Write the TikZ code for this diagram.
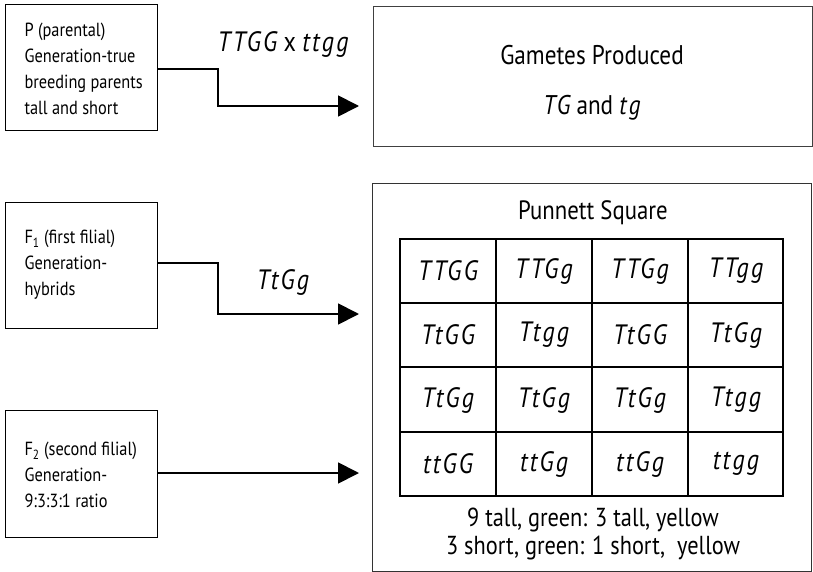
\documentclass[tikz,border=0pt]{standalone}
\usepackage{fontspec}
\setmainfont{PT Sans}[FakeStretch=0.86]
\newfontfamily\genofam{PT Sans}[LetterSpace=8,FakeStretch=0.86]
\usetikzlibrary{arrows.meta}
\newcommand{\gt}[1]{{\genofam\itshape #1}}
\begin{document}
\begin{tikzpicture}[x=1pt,y=-1pt,
  genbox/.style={draw,line width=1.3pt,inner sep=0pt},
  boxtext/.style={font=\fontsize{19}{26}\selectfont,align=left,anchor=west},
  conn/.style={line width=1.8pt,-{Triangle[length=21pt,width=21pt]}},
  cell/.style={font=\fontsize{28}{30}\selectfont},
  celllines/.style={line width=1.3pt}]
\useasboundingbox (0,0) rectangle (813,572);
% left boxes
\node[genbox,minimum width=152pt,minimum height=126pt,anchor=north west] (P) at (5,4) {};
\node[boxtext] (Ptext) at (21,69) {P (parental)\\Generation-true\\breeding parents\\tall and short};
\node[genbox,minimum width=152pt,minimum height=126pt,anchor=north west] (F1) at (5,202) {};
\node[boxtext] (F1text) at (21,265) {F\textsubscript{1} (first filial)\\Generation-\\hybrids};
\node[genbox,minimum width=152pt,minimum height=127pt,anchor=north west] (F2) at (5,410) {};
\node[boxtext] (F2text) at (21,475) {F\textsubscript{2} (second filial)\\Generation-\\9:3:3:1 ratio};
% right boxes
\node[draw=black!75,line width=1.3pt,minimum width=439pt,minimum height=140pt,anchor=north west] (G) at (373,6) {};
\node[font=\fontsize{27}{30}\selectfont] (Gt) at (592,55) {Gametes Produced};
\node[font=\fontsize{27}{30}\selectfont] (Gg) at (592,108) {\gt{TG} and \gt{tg}};
\node[draw=black!80,line width=1.3pt,minimum width=439pt,minimum height=388pt,anchor=north west] (PS) at (372,183) {};
\node[font=\fontsize{26.5}{30}\selectfont] (PSt) at (593,213) {Punnett Square};
% grid
\coordinate (gtl) at (400,239);
\coordinate (gbr) at (783,496);
\draw[celllines] (gtl) rectangle (gbr);
\foreach \x in {496,592,688} \draw[celllines] (\x,239) -- (\x,496);
\foreach \y in {303,367,432} \draw[celllines] (400,\y) -- (783,\y);
\node[cell] (c11) at (448,271) {\gt{TTGG}};
\node[cell] (c12) at (544,271) {\gt{TTGg}};
\node[cell] (c13) at (640,271) {\gt{TTGg}};
\node[cell] (c14) at (736,271) {\gt{TTgg}};
\node[cell] (c21) at (448,335) {\gt{TtGG}};
\node[cell] (c22) at (544,335) {\gt{Ttgg}};
\node[cell] (c23) at (640,335) {\gt{TtGG}};
\node[cell] (c24) at (736,335) {\gt{TtGg}};
\node[cell] (c31) at (448,400) {\gt{TtGg}};
\node[cell] (c32) at (544,400) {\gt{TtGg}};
\node[cell] (c33) at (640,400) {\gt{TtGg}};
\node[cell] (c34) at (736,400) {\gt{Ttgg}};
\node[cell] (c41) at (448,464) {\gt{ttGG}};
\node[cell] (c42) at (544,464) {\gt{ttGg}};
\node[cell] (c43) at (640,464) {\gt{ttGg}};
\node[cell] (c44) at (736,464) {\gt{ttgg}};
\node[font=\fontsize{26}{28}\selectfont,align=center] (res) at (593,534) {9 tall, green: 3 tall, yellow\\3 short, green: 1 short,\ \ yellow};
% labels
\node[font=\fontsize{28}{30}\selectfont] (l1) at (283,45) {\gt{TTGG} x \gt{ttgg}};
\node[font=\fontsize{28}{30}\selectfont] (l2) at (283,282) {\gt{TtGg}};
% connectors
\coordinate (a1) at (359,106);
\coordinate (a2) at (359,314);
\coordinate (a3) at (359,473);
\draw[conn] (P.east |- 0,69) -- (218,69) -- (218,106) -- (a1);
\draw[conn] (F1.east |- 0,263) -- (218,263) -- (218,314) -- (a2);
\draw[conn] (F2.east |- 0,473) -- (a3);
\end{tikzpicture}
\end{document}
